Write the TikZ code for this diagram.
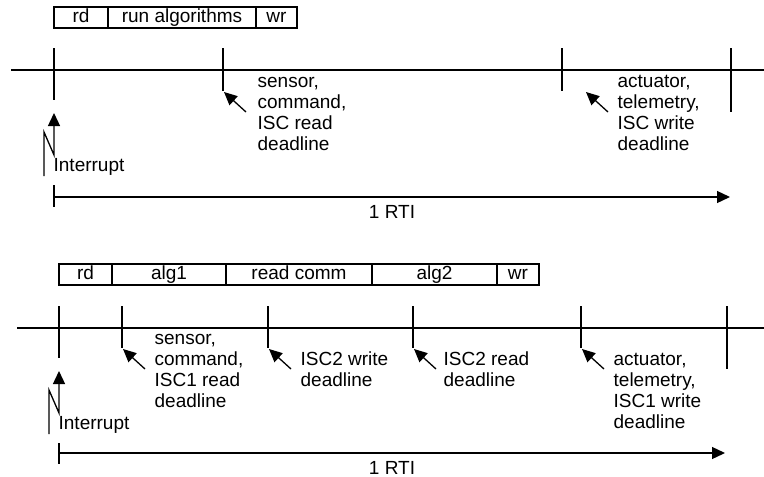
\documentclass[tikz,border=0pt]{standalone}
\usepackage{fontspec}
\setmainfont{Liberation Sans}
\usetikzlibrary{arrows.meta,positioning}

\begin{document}
\begin{tikzpicture}[x=1pt,y=-1pt,line width=1.3pt,font=\fontsize{19}{21}\selectfont,
   seg/.style={draw,outer sep=0pt,inner sep=0pt,minimum height=21pt,text height=13pt,text depth=4pt},
   lbl/.style={anchor=north west,align=left,inner sep=0pt},
   arr/.style={-{Triangle[length=13pt,width=12pt]}}]
 \useasboundingbox (0,0) rectangle (764,477);
 % first RTI
 \node[seg,minimum width=54pt] (rdA) at (81,17.5) {rd};
 \node[seg,minimum width=148pt,right=0pt of rdA] (algA) {run algorithms};
 \node[seg,minimum width=41pt,right=0pt of algA] (wrA) {wr};
 \draw (11,70) -- (764,70);
 \foreach \x/\b in {54/100,223/91,562/91,731/112} \draw (\x,48) -- (\x,\b);
 \coordinate (rddlA) at (224,92);
 \coordinate (wrdlA) at (586,92);
 \draw[arr] ([shift={(22,20)}]rddlA) -- (rddlA);
 \draw[arr] ([shift={(22,20)}]wrdlA) -- (wrdlA);
 \node[lbl] (sensA) at (257,72.5) {\strut sensor,\\command,\\ISC read\\deadline};
 \node[lbl] (actA) at (617,72.5) {\strut actuator,\\telemetry,\\ISC write\\deadline};
 \coordinate (irqA) at (54,113);
 \draw[arr] (44,176) -- (44,132) -- (54,155) -- (irqA);
 \node[anchor=base west,inner sep=0pt] (intA) at (53,171) {Interrupt};
 \draw (54,185) -- (54,207);
 \coordinate (rtiA) at (730,197);
 \draw[arr] (54,197) -- (rtiA);
 \node[anchor=base,inner sep=0pt] (rtitxtA) at (392,218) {1 RTI};
 % second RTI
 \node[seg,minimum width=53pt] (rdB) at (85.5,274.5) {rd};
 \node[seg,minimum width=114pt,right=0pt of rdB] (alg1B) {alg1};
 \node[seg,minimum width=146pt,right=0pt of alg1B] (commB) {read comm};
 \node[seg,minimum width=125pt,right=0pt of commB] (alg2B) {alg2};
 \node[seg,minimum width=42pt,right=0pt of alg2B] (wrB) {wr};
 \draw (17,328) -- (764,328);
 \foreach \x/\b in {59/358,122/348,268/348,413/348,581/348,727/369} \draw (\x,306) -- (\x,\b);
 \foreach \x/\n in {123/sens,269/iscw,414/iscr,582/act}{
   \coordinate (\n dlB) at (\x,349);
   \draw[arr] ([shift={(22,20)}]\n dlB) -- (\n dlB);
 }
 \node[lbl] (sensB) at (154,329.5) {\strut sensor,\\command,\\ISC1 read\\deadline};
 \node[lbl] (iscwB) at (300,350.5) {\strut ISC2 write\\deadline};
 \node[lbl] (iscrB) at (443,350.5) {\strut ISC2 read\\deadline};
 \node[lbl] (actB) at (613,350.5) {\strut actuator,\\telemetry,\\ISC1 write\\deadline};
 \coordinate (irqB) at (59,371);
 \draw[arr] (49,434) -- (49,390) -- (59,413) -- (irqB);
 \node[anchor=base west,inner sep=0pt] (intB) at (58,429) {Interrupt};
 \draw (59,443) -- (59,464);
 \coordinate (rtiB) at (725,453);
 \draw[arr] (59,453) -- (rtiB);
 \node[anchor=base,inner sep=0pt] (rtitxtB) at (392,474) {1 RTI};
\end{tikzpicture}
\end{document}
